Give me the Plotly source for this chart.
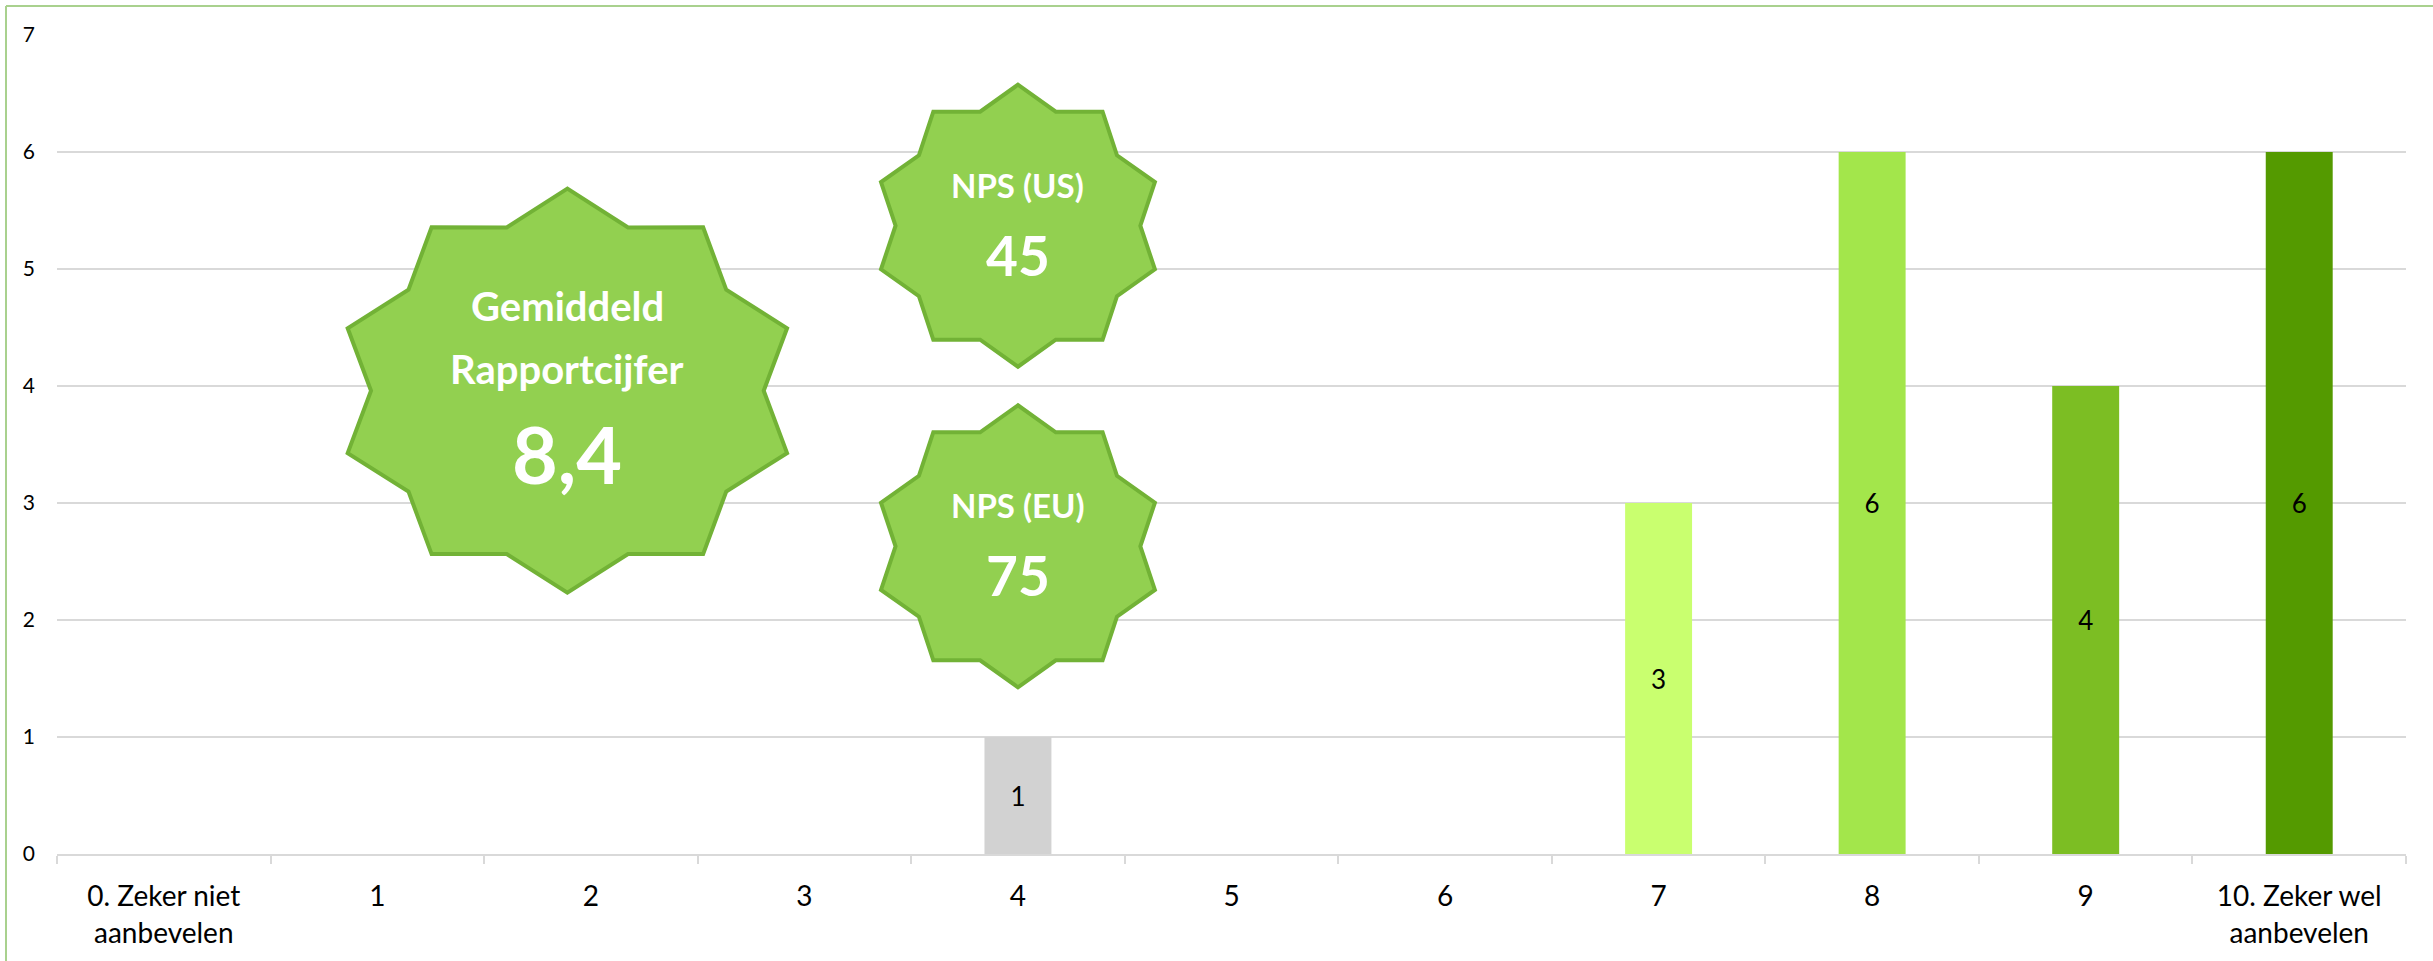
import math
import plotly.graph_objects as go

# ---------------- data ----------------
categories = ["0. Zeker niet<br>aanbevelen", "1", "2", "3", "4", "5", "6", "7", "8", "9",
              "10. Zeker wel<br>aanbevelen"]
counts = [0, 0, 0, 0, 1, 0, 0, 3, 6, 4, 6]
bar_colors = ["#D2D2D2", "#D2D2D2", "#D2D2D2", "#D2D2D2", "#D2D2D2", "#D2D2D2", "#D2D2D2",
              "#C9FF6F", "#A3E64B", "#7CBE23", "#549A00"]
y_ticks = [0, 1, 2, 3, 4, 5, 6, 7]

badge_titles = ["Gemiddeld<br>Rapportcijfer", "NPS (US)", "NPS (EU)"]
badge_values = ["8,4", "45", "75"]

# ---------------- layout constants ----------------
W, H = 2433, 961
ML, MR, MT, MB = 57, 27, 35, 105
PW, PH = W - ML - MR, H - MT - MB
FONT = "Lato, 'Open Sans', sans-serif"
STAR_FILL = "#92D050"
STAR_LINE = "#72B236"


def paper_x(px):
    return (px - ML) / PW


def paper_y(py):
    return (H - MB - py) / PH


def star_path(rx, ry, inner=0.85, points=10):
    pts = []
    for i in range(points * 2):
        ang = math.pi / 2 + i * math.pi / points
        r = 1.0 if i % 2 == 0 else inner
        pts.append((rx * r * math.cos(ang), ry * r * math.sin(ang)))
    return "M " + " L ".join(f"{x:.2f},{y:.2f}" for x, y in pts) + " Z"


fig = go.Figure()
fig.add_trace(go.Bar(
    x=categories,
    y=counts,
    marker=dict(color=bar_colors, line=dict(width=0)),
    text=[str(v) if v else "" for v in counts],
    textposition="inside",
    insidetextanchor="middle",
    textangle=0,
    constraintext="none",
    textfont=dict(family=FONT, size=26, color="#000000"),
    hoverinfo="x+y",
))

shapes = []
annotations = []

badges = [
    dict(x=1.89, y=3.96, rx=231, ry=202, title=badge_titles[0], value=badge_values[0],
         tsize=40, vsize=79, title_shift=[85, 22], value_shift=-63),
    dict(x=4.0, y=5.37, rx=144, ry=141, title=badge_titles[1], value=badge_values[1],
         tsize=33, vsize=55, title_shift=[41], value_shift=-29),
    dict(x=4.0, y=2.63, rx=144, ry=141, title=badge_titles[2], value=badge_values[2],
         tsize=33, vsize=55, title_shift=[41], value_shift=-29),
]

for b in badges:
    shapes.append(dict(
        type="path", xref="x", yref="y", xsizemode="pixel", ysizemode="pixel",
        xanchor=b["x"], yanchor=b["y"], path=star_path(b["rx"], b["ry"]),
        fillcolor=STAR_FILL, line=dict(color=STAR_LINE, width=4), layer="above",
    ))
    lines = b["title"].split("<br>")
    for line, shift in zip(lines, b["title_shift"]):
        annotations.append(dict(
            x=b["x"], y=b["y"], xref="x", yref="y", text=f"<b>{line}</b>", showarrow=False,
            yshift=shift, font=dict(family=FONT, size=b["tsize"], color="white"),
            xanchor="center", yanchor="middle",
        ))
    annotations.append(dict(
        x=b["x"], y=b["y"], xref="x", yref="y", text=f"<b>{b['value']}</b>", showarrow=False,
        yshift=b["value_shift"], font=dict(family=FONT, size=b["vsize"], color="white"),
        xanchor="center", yanchor="middle",
    ))

# outer chart border (only top and left visible in the crop)
BORDER = "#A9D18E"
shapes.append(dict(type="line", xref="paper", yref="paper",
                   x0=paper_x(6), x1=paper_x(W + 10), y0=paper_y(6), y1=paper_y(6),
                   line=dict(color=BORDER, width=2), layer="above"))
shapes.append(dict(type="line", xref="paper", yref="paper",
                   x0=paper_x(6), x1=paper_x(6), y0=paper_y(6), y1=paper_y(H + 10),
                   line=dict(color=BORDER, width=2), layer="above"))

fig.update_layout(
    width=W, height=H, autosize=False,
    margin=dict(l=ML, r=MR, t=MT, b=MB, pad=0),
    paper_bgcolor="white", plot_bgcolor="white",
    font=dict(family=FONT, color="#000000"),
    showlegend=False,
    bargap=0.6865,
    shapes=shapes,
    annotations=annotations,
    xaxis=dict(
        type="category", range=[-0.5, 10.5], showgrid=False,
        showline=True, linecolor="#D9D9D9", linewidth=1.5,
        ticks="outside", tickson="boundaries", ticklen=8, tickwidth=1.5, tickcolor="#D9D9D9",
        tickfont=dict(family=FONT, size=28, color="#000000"),
        ticklabelstandoff=17,
        fixedrange=True,
    ),
    yaxis=dict(
        range=[0, 7], tickvals=y_ticks, showgrid=True, gridcolor="#D9D9D9", gridwidth=1.5,
        zeroline=False, showline=False, ticks="",
        tickfont=dict(family=FONT, size=21, color="#000000"),
        ticklabelstandoff=21,
        fixedrange=True,
    ),
)

fig.write_html(
    "out.html",
    config={"displayModeBar": False},
    post_script="document.body.style.margin='0';document.body.style.overflow='hidden';",
)
